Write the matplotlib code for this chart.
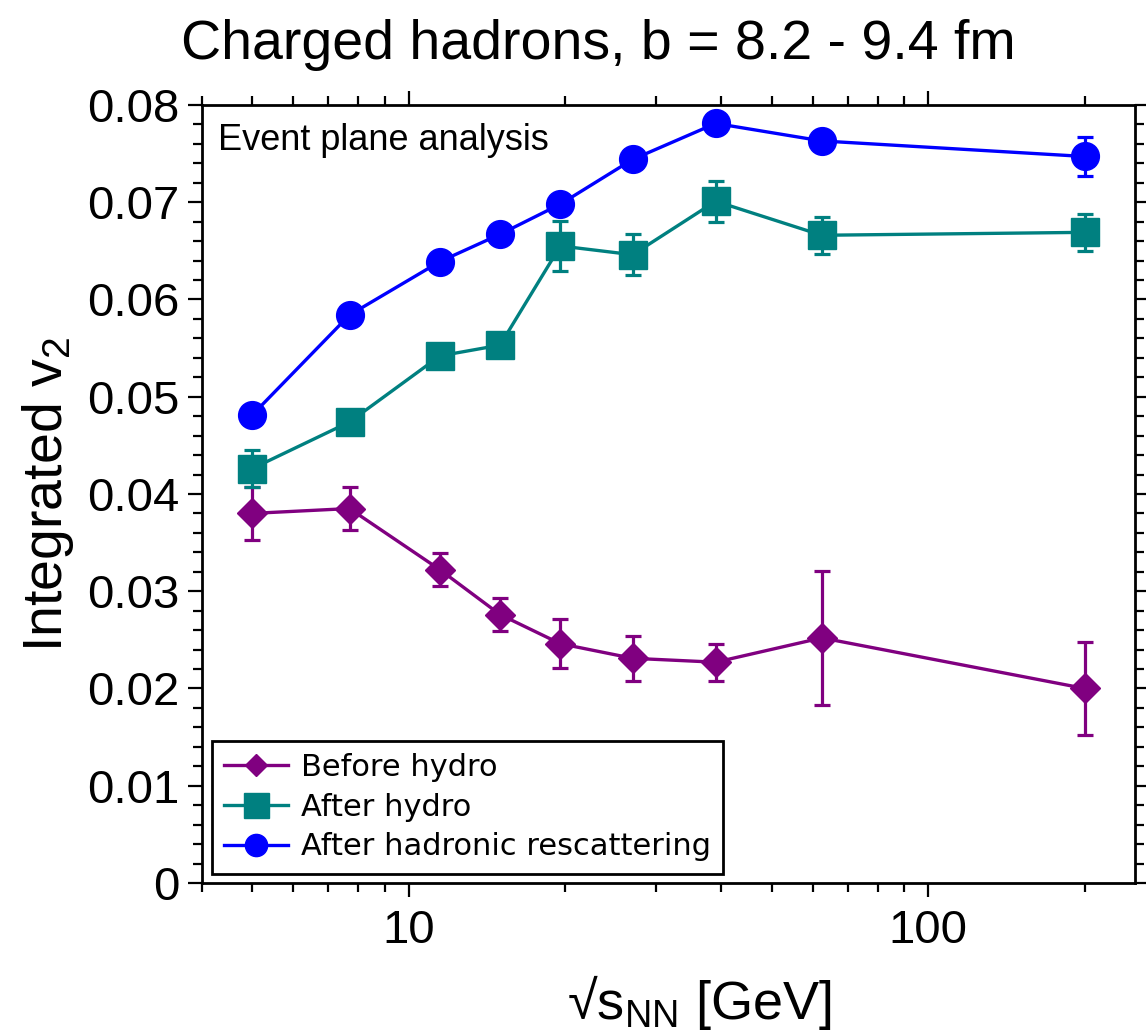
import matplotlib
matplotlib.use("Agg")
import matplotlib.pyplot as plt
from matplotlib.lines import Line2D
from matplotlib.ticker import FixedLocator, MultipleLocator, FuncFormatter, NullFormatter, LogLocator

plt.rcParams['font.family'] = ['Liberation Sans', 'DejaVu Sans']
plt.rcParams['mathtext.fontset'] = 'custom'
plt.rcParams['mathtext.rm'] = 'Liberation Sans'
plt.rcParams['mathtext.it'] = 'Liberation Sans:italic'
plt.rcParams['mathtext.bf'] = 'Liberation Sans:bold'

# collision energies sqrt(s_NN) in GeV
energies = [5, 7.7, 11.5, 15, 19.6, 27, 39, 62.4, 200]

# integrated v2 and errors
v2_before = [0.0380, 0.0385, 0.0322, 0.0276, 0.0246, 0.0231, 0.0227, 0.0252, 0.0200]
err_before = [0.0027, 0.0022, 0.0017, 0.0017, 0.0025, 0.0023, 0.0019, 0.0069, 0.0048]

v2_hydro = [0.0426, 0.0474, 0.0542, 0.0553, 0.0655, 0.0646, 0.0701, 0.0666, 0.0669]
err_hydro = [0.0019, 0.0012, 0.0010, 0.0010, 0.0026, 0.0021, 0.0021, 0.0019, 0.0019]

v2_resc = [0.0481, 0.0584, 0.0639, 0.0667, 0.0698, 0.0744, 0.0781, 0.0763, 0.0747]
err_resc = [0.0010, 0.0010, 0.0010, 0.0010, 0.0010, 0.0010, 0.0010, 0.0010, 0.0020]

labels = ['Before hydro', 'After hydro', 'After hadronic rescattering']
colors = ['#800080', '#008080', '#0000ff']
markers = ['D', 's', 'o']
msizes = [15, 19.5, 20]

fig = plt.figure(figsize=(11.46, 10.35), dpi=100)
ax = fig.add_axes([0.176, 0.1469, 0.8144, 0.7517])

series = [(v2_before, err_before), (v2_hydro, err_hydro), (v2_resc, err_resc)]
for i, (vals, errs) in enumerate(series):
    ax.errorbar(energies, vals, yerr=errs, fmt='none', ecolor=colors[i],
                elinewidth=2.3, capsize=6, capthick=2.3, zorder=2 + i)
    ax.plot(energies, vals, color=colors[i], lw=2.4, marker=markers[i],
            ms=msizes[i], mec=colors[i], mfc=colors[i], zorder=2 + i)

ax.set_xscale('log')
ax.set_xlim(4, 250)
ax.set_ylim(0, 0.08)

ax.xaxis.set_major_locator(FixedLocator([10, 100]))
ax.xaxis.set_major_formatter(FuncFormatter(lambda v, p: f'{v:.0f}'))
ax.xaxis.set_minor_locator(LogLocator(base=10, subs=range(2, 10), numticks=20))
ax.xaxis.set_minor_formatter(NullFormatter())

ax.yaxis.set_major_locator(MultipleLocator(0.01))
ax.yaxis.set_minor_locator(MultipleLocator(0.002))
ax.yaxis.set_major_formatter(FuncFormatter(lambda v, p: '0' if abs(v) < 1e-9 else f'{v:.2f}'))

for s in ax.spines.values():
    s.set_linewidth(2)
ax.tick_params(which='both', direction='out', top=True, right=True, width=1.6)
ax.tick_params(which='major', length=10, labelsize=34)
ax.tick_params(which='minor', length=6.5)
ax.tick_params(axis='y', which='major', pad=6)
ax.tick_params(axis='x', which='major', pad=9)

ax.set_ylabel(r'Integrated v$_{\mathrm{2}}$', fontsize=40, labelpad=8)
fig.text(699 / 1146, 1 - 1019 / 1035, '\u221as$_{\\mathrm{NN}}$ [GeV]',
         fontsize=39, ha='center', va='baseline')
fig.text(598 / 1146, 1 - 45 / 1035, 'Charged hadrons, b = 8.2 - 9.4 fm',
         fontsize=40, ha='center', va='center')

ax.text(0.0175, 0.942, 'Event plane analysis', transform=ax.transAxes,
        fontsize=26, ha='left', va='baseline')

handles = [Line2D([], [], color=colors[0], lw=2.4, marker='D', ms=11),
           Line2D([], [], color=colors[1], lw=2.4, marker='s', ms=18),
           Line2D([], [], color=colors[2], lw=2.4, marker='o', ms=16)]
leg = ax.legend(handles, labels, loc='lower left', bbox_to_anchor=(0.011, 0.012),
                borderaxespad=0, prop={'family': 'DejaVu Sans', 'size': 22},
                fancybox=False, framealpha=1, edgecolor='black',
                handlelength=2.1, handletextpad=0.42, borderpad=0.4, labelspacing=0.35)
leg.get_frame().set_linewidth(2)

fig.savefig('out.png', dpi=100)
plt.close(fig)
